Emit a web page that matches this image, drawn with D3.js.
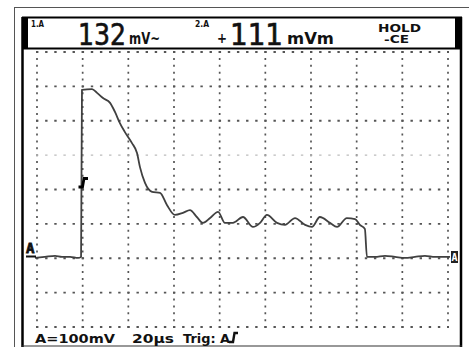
<!DOCTYPE html>
<html><head><meta charset="utf-8">
<script src="https://cdn.jsdelivr.net/npm/d3@7"></script>
<style>html,body{margin:0;padding:0;background:#fff;}svg{display:block;}</style>
</head><body>
<script>
// ---- data ----
const timeUs = [-0.9,3.5,7.9,10.9,14.5,18,19.3,19.7,24.1,26.3,28.9,32,34.2,36.3,38.5,41.6,43.8,45.1,47.3,50.4,53.9,56.9,60.4,63.9,67,70,72.7,75.8,79.3,82.3,85.8,90.2,94.6,97.7,100.7,105.1,108.6,113,117.4,120.4,123.9,128.3,131.4,135.7,139.3,141.4,143.6,144.5,148,152.4,156.8,161.1,165.5,169.9,174.3,180.9];
const voltMv = [1,4,7,4,4,1,4,490,492,481,466,452,425,393,367,335,306,265,219,193,190,155,126,132,140,120,103,117,135,103,103,120,91,103,126,103,97,117,97,91,120,103,91,117,114,97,85,4,4,7,4,1,4,7,4,4];
const timeGrid = [0,20,40,60,80,100,120,140,160,180];
const voltGrid = [600,500,400,300,200,100,0,-100,-200];
const reading1 = ["1.A","132","mV~"];
const reading2 = ["2.A","+","111","mVm"];
const holdText = ["HOLD","-CE"];
const footer = ["A=100mV","20\u00b5s","Trig: A"];

const W=469,H=347;
const svg=d3.select("body").append("svg").attr("width",W).attr("height",H);
svg.append("rect").attr("width",W).attr("height",H).attr("fill","#fff");

const x=d3.scaleLinear().domain([0,180]).range([37,448]);
const y=d3.scaleLinear().domain([-200,600]).range([327,52]);

// outer frame
svg.append("line").attr("x1",14).attr("x2",469).attr("y1",7.5).attr("y2",7.5).attr("stroke","#555").attr("stroke-width",1);
svg.append("line").attr("x1",14.5).attr("x2",14.5).attr("y1",7).attr("y2",347).attr("stroke","#555").attr("stroke-width",1);
// screen borders
svg.append("line").attr("x1",22.5).attr("x2",22.5).attr("y1",17).attr("y2",347).attr("stroke","#000").attr("stroke-width",2.5);
svg.append("line").attr("x1",461).attr("x2",461).attr("y1",17).attr("y2",347).attr("stroke","#000").attr("stroke-width",2.5);
svg.append("line").attr("x1",22).attr("x2",462).attr("y1",346).attr("y2",346).attr("stroke","#333").attr("stroke-width",1.2);
// header box
svg.append("rect").attr("x",23).attr("y",17.5).attr("width",438).attr("height",31).attr("fill","none").attr("stroke","#000").attr("stroke-width",2);
svg.append("rect").attr("x",23).attr("y",17).attr("width",5).attr("height",32).attr("fill","#000");
svg.append("rect").attr("x",455).attr("y",17).attr("width",6).attr("height",32).attr("fill","#000");

// grid
const g=svg.append("g");
const vStep=(y(0)-y(100));
const hStep=(x(20)-x(0));
timeGrid.forEach(t=>{
  g.append("line").attr("x1",x(t)).attr("x2",x(t)).attr("y1",y(600)-1).attr("y2",y(-200)+1)
   .attr("stroke","#555").attr("stroke-width",1.7).attr("stroke-dasharray",`2,${vStep/5-2}`);
});
voltGrid.forEach((v,i)=>{
  g.append("line").attr("x1",x(0)-1).attr("x2",x(180)+1).attr("y1",y(v)).attr("y2",y(v))
   .attr("stroke",v===300?"#bbb":"#555").attr("stroke-width",v===300?1.2:1.9)
   .attr("stroke-dasharray",`2.4,${hStep/5-2.4}`);
});

// trace
const line=d3.line().x((d,i)=>x(timeUs[i])).y((d,i)=>y(voltMv[i])).curve(d3.curveMonotoneX);
svg.append("path").datum(voltMv).attr("d",line).attr("fill","none").attr("stroke","#404040").attr("stroke-width",1.8).attr("stroke-linejoin","round");

// markers
const mk="DejaVu Sans Mono, monospace";
svg.append("text").attr("x",26).attr("y",253).attr("font-family",mk).attr("font-weight","bold").attr("font-size",14)
  .attr("fill","#111").attr("stroke","#111").attr("stroke-width",0.8).text("A");
svg.append("line").attr("x1",26).attr("x2",36).attr("y1",256.5).attr("y2",256.5).attr("stroke","#111").attr("stroke-width",2);
svg.append("rect").attr("x",451).attr("y",251).attr("width",7).attr("height",12).attr("fill","#222");
svg.append("text").attr("x",451.5).attr("y",261).attr("font-family",mk).attr("font-weight","bold").attr("font-size",10).attr("fill","#fff").text("A");
svg.append("path").attr("d","M78.5,187 L82.5,187 L84,178.5 L88,178.5").attr("fill","none").attr("stroke","#000").attr("stroke-width",2.8);

// header texts
const nf="Liberation Sans Narrow, DejaVu Sans Condensed, Liberation Sans, sans-serif";
const sf="DejaVu Sans, sans-serif";
function T(s,xx,yy,fs,opt={}){
  const t=svg.append("text").attr("x",xx).attr("y",yy).attr("font-size",fs).attr("font-family",opt.ff||nf)
   .attr("font-weight",opt.fw||"normal").attr("fill","#111").text(s);
  if(opt.sw) t.attr("stroke","#111").attr("stroke-width",opt.sw);
  if(opt.len) t.attr("textLength",opt.len).attr("lengthAdjust","spacingAndGlyphs");
  return t;
}
T(reading1[0],31,27,8,{ff:sf,fw:"bold",len:13});
T(reading1[1],78,45,30,{len:48,sw:0.6});
T(reading1[2],129,44,15,{ff:sf,fw:"bold",len:31});
T(reading2[0],195,27,8,{ff:sf,fw:"bold",len:14});
T(reading2[1],217,43,14,{ff:sf,fw:"bold",len:10});
T(reading2[2],230,45,30,{len:53,sw:0.6});
T(reading2[3],287,44,15,{ff:sf,fw:"bold",len:47});
T(holdText[0],378,32,11,{ff:sf,fw:"bold",len:43});
T(holdText[1],384,43,10,{ff:sf,fw:"bold",len:25});
// footer
T(footer[0],35,343,13,{ff:sf,fw:"bold",len:80});
T(footer[1],132,343,13,{ff:sf,fw:"bold",len:42});
T(footer[2],183,343,13,{ff:sf,fw:"bold",len:47});
svg.append("path").attr("d","M229,342 L233,342 L234.5,333 L238,333").attr("fill","none").attr("stroke","#111").attr("stroke-width",2.4);
</script>
</body></html>
